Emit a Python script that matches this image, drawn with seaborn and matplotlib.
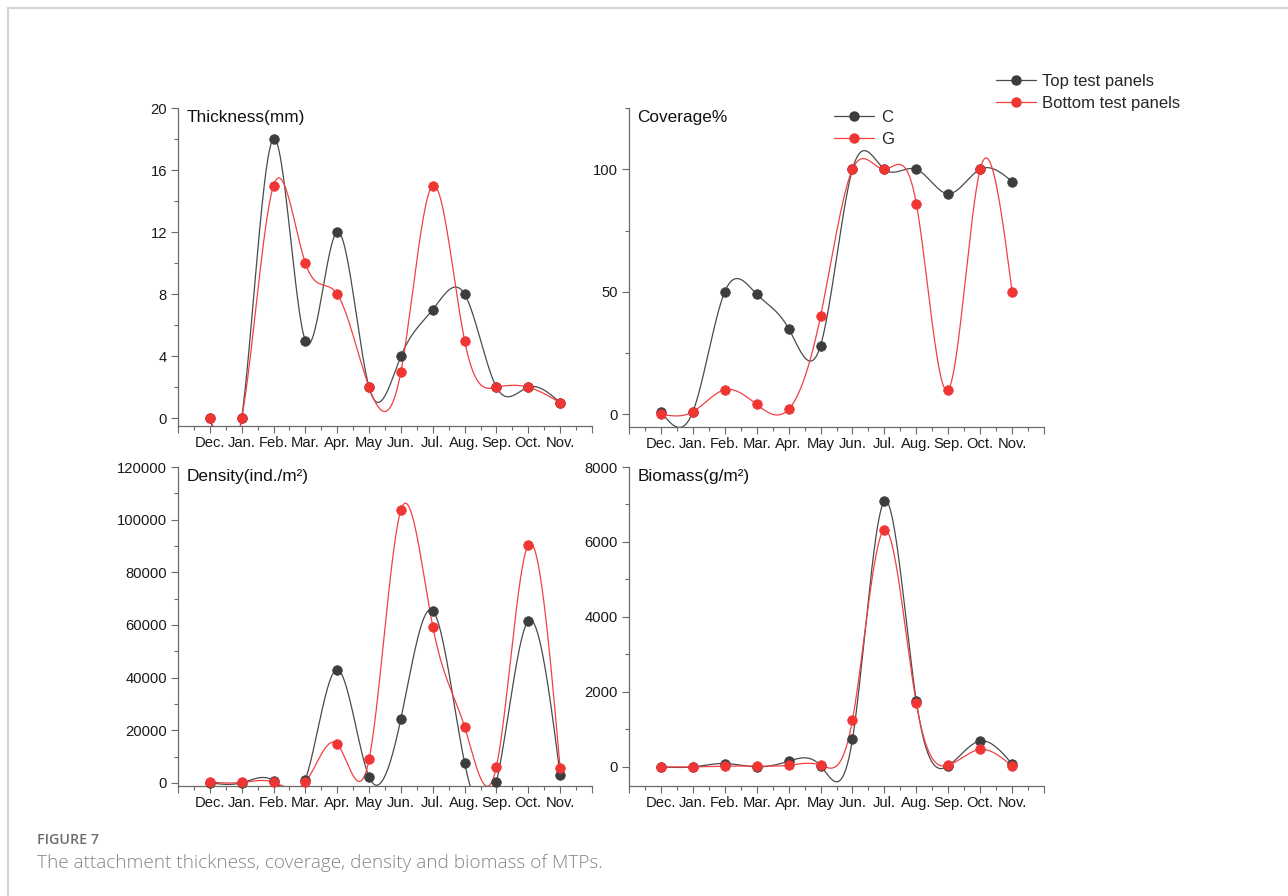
import numpy as np
import pandas as pd
import matplotlib
matplotlib.use("Agg")
import matplotlib.pyplot as plt
import seaborn as sns
from matplotlib.lines import Line2D
from matplotlib.ticker import FixedLocator, MultipleLocator

# ---- data -------------------------------------------------------------
months = ["Dec.", "Jan.", "Feb.", "Mar.", "Apr.", "May",
          "Jun.", "Jul.", "Aug.", "Sep.", "Oct.", "Nov."]

thickness_top = [0, 0, 18, 5, 12, 2, 4, 7, 8, 2, 2, 1]
thickness_bottom = [0, 0, 15, 10, 8, 2, 3, 15, 5, 2, 2, 1]

coverage_top = [1, 1, 50, 49, 35, 28, 100, 100, 100, 90, 100, 95]
coverage_bottom = [0, 1, 10, 4, 2, 40, 100, 100, 86, 10, 100, 50]

density_top = [0, 0, 800, 1200, 43000, 2300, 24400, 65400, 7600, 400, 61500, 2900]
density_bottom = [250, 150, 250, 250, 14700, 8900, 103600, 59400, 21300, 6200, 90500, 5500]

biomass_top = [0, 0, 90, 0, 150, 30, 740, 7080, 1760, 30, 690, 80]
biomass_bottom = [0, 0, 20, 20, 45, 45, 1250, 6330, 1700, 45, 465, 20]

series_names = ["Top test panels", "Bottom test panels"]
short_names = ["C", "G"]

# ---- style ------------------------------------------------------------
sns.set_style("ticks")
plt.rcParams["font.family"] = ["Liberation Sans", "DejaVu Sans"]
plt.rcParams["axes.edgecolor"] = "#6a6a6a"
plt.rcParams["xtick.color"] = "#6a6a6a"
plt.rcParams["ytick.color"] = "#6a6a6a"
plt.rcParams["xtick.labelcolor"] = "#1a1a1a"
plt.rcParams["ytick.labelcolor"] = "#1a1a1a"

COL_TOP_LINE = "#4a4a4a"
COL_TOP_MARK = "#3d3d3d"
COL_BOT_LINE = "#f24040"
COL_BOT_MARK = "#f03535"

W, H = 1288, 896
fig = plt.figure(figsize=(W / 100, H / 100), dpi=100)
fig.patch.set_facecolor("white")


def px_axes(left, top, right, bottom):
    return fig.add_axes([left / W, 1 - bottom / H, (right - left) / W, (bottom - top) / H])


def natural_spline(x, y, xs):
    """Natural cubic spline through (x, y), evaluated at xs."""
    x = np.asarray(x, float)
    y = np.asarray(y, float)
    n = len(x)
    h = np.diff(x)
    A = np.zeros((n, n))
    r = np.zeros(n)
    A[0, 0] = 1.0
    A[-1, -1] = 1.0
    for i in range(1, n - 1):
        A[i, i - 1] = h[i - 1]
        A[i, i] = 2 * (h[i - 1] + h[i])
        A[i, i + 1] = h[i]
        r[i] = 6 * ((y[i + 1] - y[i]) / h[i] - (y[i] - y[i - 1]) / h[i - 1])
    M = np.linalg.solve(A, r)
    idx = np.clip(np.searchsorted(x, xs) - 1, 0, n - 2)
    x0, x1 = x[idx], x[idx + 1]
    hh = x1 - x0
    a = (x1 - xs) / hh
    b = (xs - x0) / hh
    return (a * y[idx] + b * y[idx + 1]
            + ((a ** 3 - a) * M[idx] + (b ** 3 - b) * M[idx + 1]) * hh ** 2 / 6)


xpos = np.arange(len(months))
xfine = np.linspace(0, len(months) - 1, 600)

panels = [
    # (left, top, right, bottom), title, top series, bottom series, ylim, major, minor
    ((178, 108, 592, 426), "Thickness(mm)", thickness_top, thickness_bottom,
     (-0.5, 20), 4, 2),
    ((629, 108, 1044, 427), "Coverage%", coverage_top, coverage_bottom,
     (-5.2, 125), 50, 25),
    ((178, 467, 592, 786), "Density(ind./m\u00b2)", density_top, density_bottom,
     (-1200, 120000), 20000, 10000),
    ((629, 467, 1044, 786), "Biomass(g/m\u00b2)", biomass_top, biomass_bottom,
     (-510, 8000), 2000, 1000),
]

axes = []
for box, title, top_vals, bot_vals, ylim, major, minor in panels:
    ax = px_axes(*box)
    axes.append(ax)
    for vals, lc, mc in ((top_vals, COL_TOP_LINE, COL_TOP_MARK),
                         (bot_vals, COL_BOT_LINE, COL_BOT_MARK)):
        curve = pd.DataFrame({"x": xfine, "y": natural_spline(xpos, vals, xfine)})
        sns.lineplot(data=curve, x="x", y="y", ax=ax, color=lc, linewidth=0.9,
                     sort=False, estimator=None)
        pts = pd.DataFrame({"x": xpos, "y": vals})
        sns.scatterplot(data=pts, x="x", y="y", ax=ax, color=mc, s=48,
                        edgecolor=mc, linewidth=0.5, zorder=3, clip_on=False)

    ax.set_xlim(-1, 12)
    ax.set_ylim(*ylim)
    ax.set_xlabel("")
    ax.set_ylabel("")
    ax.xaxis.set_major_locator(FixedLocator(np.arange(-1, 13)))
    ax.set_xticklabels([""] + months + [""])
    ax.xaxis.set_minor_locator(FixedLocator(np.arange(-0.5, 12, 1.0)))
    ax.yaxis.set_major_locator(MultipleLocator(major))
    ax.yaxis.set_minor_locator(MultipleLocator(minor))
    ax.tick_params(axis="both", which="major", direction="out", length=5,
                   width=0.8, labelsize=10.6, pad=3)
    ax.tick_params(axis="both", which="minor", direction="out", length=3, width=0.8)
    ax.tick_params(axis="x", which="major", pad=2.5)
    ax.set_yticks([t for t in ax.get_yticks() if ylim[0] <= t <= ylim[1]])
    ax.yaxis.set_major_formatter(matplotlib.ticker.FuncFormatter(lambda v, p: f"{v:.0f}"))
    for side in ("top", "right"):
        ax.spines[side].set_visible(False)
    for side in ("left", "bottom"):
        ax.spines[side].set_linewidth(0.9)
    ax.text(0.02, 0.995, title, transform=ax.transAxes, ha="left", va="top",
            fontsize=12.4, color="#111111")

# ---- legends ----------------------------------------------------------
handles = [
    Line2D([], [], color=COL_TOP_LINE, lw=0.9, marker="o", markersize=6.5,
           markerfacecolor=COL_TOP_MARK, markeredgecolor=COL_TOP_MARK),
    Line2D([], [], color=COL_BOT_LINE, lw=0.9, marker="o", markersize=6.5,
           markerfacecolor=COL_BOT_MARK, markeredgecolor=COL_BOT_MARK),
]
fig.legend(handles, series_names, loc="upper left",
           bbox_to_anchor=(996 / W, 1 - 74 / H), frameon=False, fontsize=12.0,
           handlelength=2.4, handletextpad=0.35, labelspacing=0.4,
           borderpad=0, borderaxespad=0)
fig.legend(handles, short_names, loc="upper left",
           bbox_to_anchor=(834 / W, 1 - 110 / H), frameon=False, fontsize=12.0,
           handlelength=2.4, handletextpad=0.45, labelspacing=0.4,
           borderpad=0, borderaxespad=0)

# ---- page frame and caption ------------------------------------------
frame_col = "#d4d4d4"
fig.add_artist(Line2D([8 / W, 1], [1 - 8 / H, 1 - 8 / H], transform=fig.transFigure,
                      color=frame_col, lw=1.5))
fig.add_artist(Line2D([8 / W, 8 / W], [0, 1 - 8 / H], transform=fig.transFigure,
                      color=frame_col, lw=1.5))

fig.text(37 / W, 1 - 840 / H, "FIGURE 7", ha="left", va="center",
         fontsize=10.3, color="#6e6e6e", family=["Open Sans", "DejaVu Sans"],
         fontweight="semibold")
fig.text(37 / W, 1 - 863 / H,
         "The attachment thickness, coverage, density and biomass of MTPs.",
         ha="left", va="center", fontsize=13.7, color="#858585",
         family=["Open Sans", "DejaVu Sans"], fontweight="light")

fig.savefig("out.png", dpi=100, facecolor="white")
